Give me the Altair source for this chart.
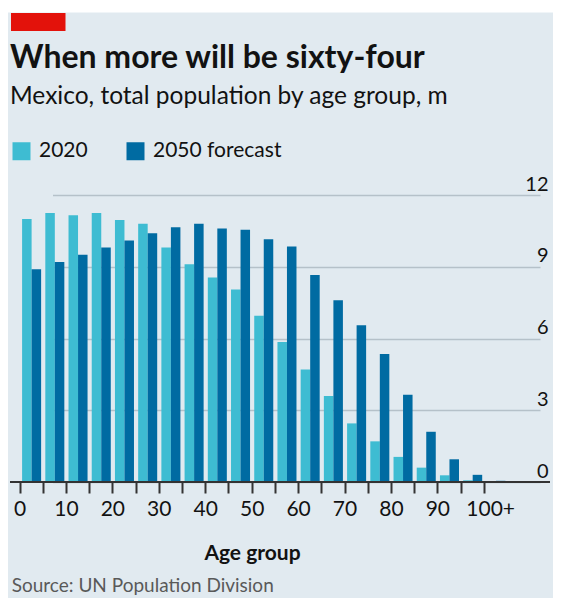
import altair as alt
import pandas as pd

# ---- data ----
ages = ["0", "5", "10", "15", "20", "25", "30", "35", "40", "45", "50",
        "55", "60", "65", "70", "75", "80", "85", "90", "95", "100+"]
pop_2020 = [11.0, 11.25, 11.15, 11.25, 10.95, 10.8, 9.8, 9.1, 8.55, 8.05, 6.95,
            5.85, 4.7, 3.6, 2.45, 1.7, 1.05, 0.6, 0.28, 0.07, 0.01]
pop_2050 = [8.9, 9.2, 9.5, 9.8, 10.1, 10.4, 10.65, 10.8, 10.6, 10.55, 10.15,
            9.85, 8.65, 7.6, 6.55, 5.35, 3.65, 2.1, 0.95, 0.3, 0.05]
series = ["2020", "2050 forecast"]
colors = ["#3EBCD2", "#006BA2"]
y_ticks = [0, 3, 6, 9, 12]
title_text = "When more will be sixty-four"
subtitle_text = "Mexico, total population by age group, m"
x_title = "Age group"
source_text = "Source: UN Population Division"

rows = []
for a, v1, v2 in zip(ages, pop_2020, pop_2050):
    rows.append({"age": a, "series": series[0], "value": v1})
    rows.append({"age": a, "series": series[1], "value": v2})
df = pd.DataFrame(rows)

FONT = "Lato"
INK = "#121212"
BG = "#E1EAF0"

label_expr = "(datum.value == '100+' || toNumber(datum.value) % 10 == 0) ? datum.label : ''"

bars = alt.Chart(df).mark_bar().encode(
    x=alt.X(
        "age:N", sort=ages,
        scale=alt.Scale(paddingInner=0, paddingOuter=0, range=[10, 497.5]),
        axis=alt.Axis(
            title=x_title, bandPosition=0, labelExpr=label_expr, labelAngle=0,
            domain=False,
            ticks=True, tickSize=11, tickWidth=2, tickColor="#333333",
            grid=False, labelFont=FONT, labelFontSize=21, labelColor=INK,
            labelPadding=5,
            labelOffset=alt.condition("datum.value == '100+'", alt.value(-5.2), alt.value(-11.6)),
            titleFont=FONT, titleFontSize=21, titleFontWeight="bold", titleColor=INK,
            titleX=242, titleY=77, titleBaseline="alphabetic", titleAlign="center",
            zindex=1,
        ),
    ),
    xOffset=alt.XOffset("series:N", sort=series,
                        scale=alt.Scale(paddingInner=0, paddingOuter=0.22)),
    y=alt.Y(
        "value:Q",
        scale=alt.Scale(domain=[0, 12], nice=False),
        axis=alt.Axis(
            orient="right", values=y_ticks, title=None,
            grid=True, gridColor="#B5C1C9", gridWidth=1.3,
            domain=False, ticks=False, tickSize=0,
            labelAlign="right", labelBaseline="alphabetic",
            labelPadding=-2, labelOffset=-5,
            labelFont=FONT, labelFontSize=20, labelColor=INK,
        ),
    ),
    color=alt.Color(
        "series:N", sort=series,
        scale=alt.Scale(domain=series, range=colors),
        legend=alt.Legend(
            orient="none", legendX=1, legendY=-54.5, direction="horizontal",
            title=None, symbolType="square", symbolSize=324, symbolStrokeWidth=0,
            symbolOpacity=1, labelFont=FONT, labelFontSize=21, labelColor=INK,
            labelOffset=7, columnPadding=37, padding=0,
        ),
    ),
)

one = pd.DataFrame({"t": [source_text], "zero": [0]})

baseline = alt.Chart(one).mark_rule(color="#333333", strokeWidth=2).encode(
    y=alt.Y("zero:Q"), x=alt.value(0), x2=alt.value(540)
)
white_strip = alt.Chart(one).mark_rect(color="#FFFFFF").encode(
    x=alt.value(-2), x2=alt.value(543), y=alt.value(-187), y2=alt.value(-182.5)
)
red_rect = alt.Chart(one).mark_rect(color="#E3120B").encode(
    x=alt.value(1), x2=alt.value(55.5), y=alt.value(-182), y2=alt.value(-164)
)
source = alt.Chart(one).mark_text(
    align="left", baseline="alphabetic", font=FONT, fontSize=19, color="#595959"
).encode(text="t:N", x=alt.value(1.7), y=alt.value(396.5))

chart = alt.layer(white_strip, red_rect, bars, baseline, source).properties(
    width=540, height=287,
    padding={"left": 2, "top": 187, "right": 3, "bottom": 116},
    autosize=alt.AutoSizeParams(type="none"),
    background=BG,
    title=alt.TitleParams(
        text=title_text, subtitle=subtitle_text, anchor="start", frame="group",
        font=FONT, fontSize=32, fontWeight="bold", color=INK,
        subtitleFont=FONT, subtitleFontSize=24.5, subtitleColor=INK,
        subtitlePadding=10, offset=-101.1, baseline="top",
    ),
).configure_view(strokeWidth=0)

chart.save("out.html", embed_options={"renderer": "svg", "actions": False})
